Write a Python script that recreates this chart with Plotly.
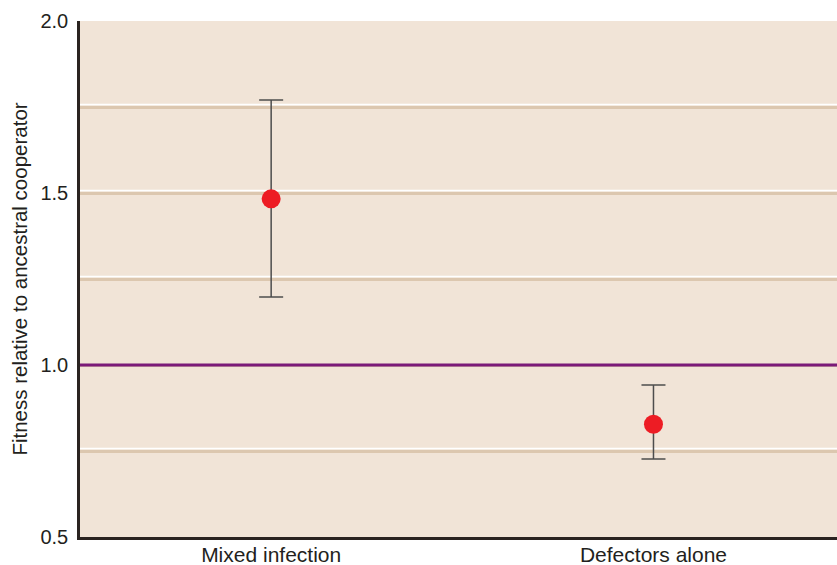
import plotly.graph_objects as go

categories = ["Mixed infection", "Defectors alone"]
fitness = [1.483, 0.828]
upper = [1.770, 0.942]
lower = [1.198, 0.727]

ytick_vals = [0.5, 1.0, 1.5, 2.0]
ytick_text = ["0.5", "1.0", "1.5", "2.0"]
grid_vals = [0.75, 1.25, 1.5, 1.75, 2.0]
baseline = 1.0

err_plus = [u - v for u, v in zip(upper, fitness)]
err_minus = [v - l for v, l in zip(fitness, lower)]

text_color = "#231f20"
font_family = "Liberation Sans, Arial, Helvetica, sans-serif"

fig = go.Figure()
fig.add_trace(go.Scatter(
    x=categories, y=fitness, mode="markers",
    marker=dict(color="#ed1c24", size=19, line=dict(width=0)),
    error_y=dict(type="data", symmetric=False, array=err_plus, arrayminus=err_minus,
                 color="#4d4d4d", thickness=1.5, width=12),
    showlegend=False, hoverinfo="skip",
))

shapes = []
for g in grid_vals:
    shapes.append(dict(type="line", xref="paper", x0=0, x1=1, yref="y",
                       ysizemode="pixel", yanchor=g, y0=2.5, y1=2.5,
                       line=dict(color="#ffffff", width=1.5), layer="below"))
shapes.append(dict(type="line", xref="paper", x0=0, x1=1, yref="y", y0=baseline, y1=baseline,
                   line=dict(color="#7b1a79", width=3), layer="above"))

fig.update_layout(
    width=837, height=565,
    template="none",
    margin=dict(l=80, r=0, t=21, b=28, autoexpand=False),
    paper_bgcolor="white",
    plot_bgcolor="#f1e4d7",
    font=dict(family=font_family, size=20, color=text_color),
    shapes=shapes,
    xaxis=dict(type="category", range=[-0.5, 1.48], showgrid=False, zeroline=False,
               showline=True, linecolor="#2a2320", linewidth=2.5, ticks="",
               tickfont=dict(size=21, color=text_color), automargin=False,
               ticklabelstandoff=-3),
    yaxis=dict(range=[0.5, 2.0], tickvals=ytick_vals, ticktext=ytick_text,
               showgrid=True, gridcolor="#dcc7af", gridwidth=2.5,
               minor=dict(dtick=0.25, tick0=0.5, showgrid=True, gridcolor="#dcc7af", gridwidth=2.5),
               zeroline=False, showline=True, linecolor="#2a2320", linewidth=2.5, ticks="",
               tickfont=dict(size=20, color=text_color), automargin=False,
               ticklabelstandoff=5,
               title=dict(text="Fitness relative to ancestral cooperator",
                          font=dict(size=20.5, color=text_color), standoff=8)),
)

fig.write_html("out.html", config={"displayModeBar": False},
               post_script="document.body.style.margin='0';document.body.style.overflow='hidden';")
